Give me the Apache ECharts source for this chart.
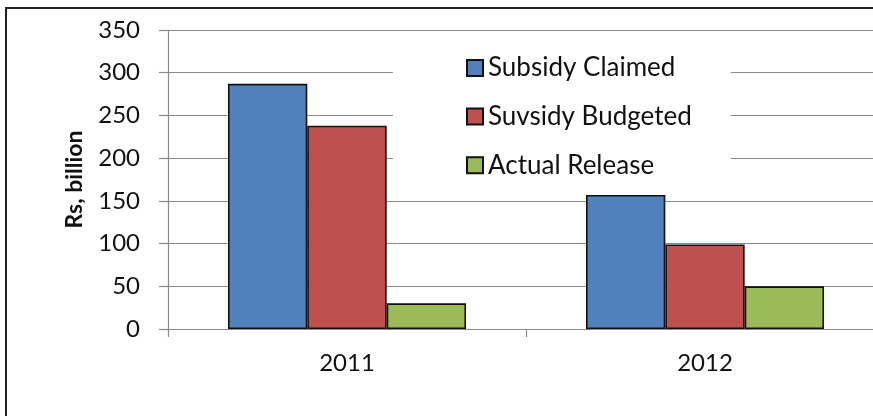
<!DOCTYPE html>
<html>
<head>
<meta charset="utf-8">
<script src="https://cdn.jsdelivr.net/npm/echarts@6/dist/echarts.min.js"></script>
<style>
  html, body { margin: 0; padding: 0; background: #fff; overflow: hidden; }
  #chart { width: 900px; height: 416px; }
</style>
</head>
<body>
<div id="chart"></div>
<script>
// Fertiliser subsidy figures, Rs billion
const years = ['2011', '2012'];
const subsidyClaimed = [287, 157];
const subsidyBudgeted = [238, 99];
const actualRelease = [30, 50];
const seriesNames = ['Subsidy Claimed', 'Suvsidy Budgeted', 'Actual Release'];
const seriesColors = ['#4F81BD', '#C0504D', '#9BBB59'];

const font = 'Lato, "Open Sans", sans-serif';
const gridColor = '#8a8a8a';
const textColor = '#111';

const chart = echarts.init(document.getElementById('chart'), null, { renderer: 'canvas' });

const values = [subsidyClaimed, subsidyBudgeted, actualRelease];
const series = values.map((data, i) => ({
  name: seriesNames[i],
  type: 'bar',
  data: data,
  barGap: '0%',
  barCategoryGap: '33.5%',
  itemStyle: { color: seriesColors[i], borderColor: '#111', borderWidth: 1.6 },
  emphasis: { disabled: true }
}));

chart.setOption({
  animation: false,
  backgroundColor: '#fff',
  graphic: [{
    type: 'rect',
    shape: { x: 6, y: 8, width: 1000, height: 600 },
    style: { fill: 'none', stroke: '#222', lineWidth: 2 },
    silent: true, z: 100
  }],
  grid: { left: 168, top: 30, right: 16, bottom: 87, containLabel: false },
  legend: {
    orient: 'vertical',
    left: 393,
    top: 35,
    padding: [20, 39, 12, 73],
    backgroundColor: '#fff',
    itemWidth: 16,
    itemHeight: 16,
    itemGap: 22.6,
    icon: 'rect',
    z: 1,
    textStyle: { fontFamily: font, fontSize: 26, color: textColor, lineHeight: 26 },
    data: seriesNames
  },
  xAxis: {
    type: 'category',
    data: years,
    axisLine: { lineStyle: { color: gridColor, width: 1.2 } },
    axisTick: { show: true, length: 8, alignWithLabel: false, lineStyle: { color: gridColor, width: 1.2 } },
    axisLabel: { fontFamily: font, fontSize: 24, color: textColor, margin: 22 }
  },
  yAxis: {
    type: 'value',
    min: 0,
    max: 350,
    interval: 50,
    name: 'Rs, billion',
    nameLocation: 'middle',
    nameGap: 82,
    nameRotate: 90,
    nameTextStyle: { fontFamily: font, fontSize: 23, fontWeight: 'bold', color: textColor },
    axisLine: { show: true, lineStyle: { color: gridColor, width: 1.2 } },
    axisTick: { show: true, length: 9, lineStyle: { color: gridColor, width: 1.2 } },
    axisLabel: { fontFamily: font, fontSize: 24, color: textColor, margin: 28 },
    splitLine: { show: true, lineStyle: { color: gridColor, width: 1.2 } }
  },
  series: series
});
</script>
</body>
</html>
